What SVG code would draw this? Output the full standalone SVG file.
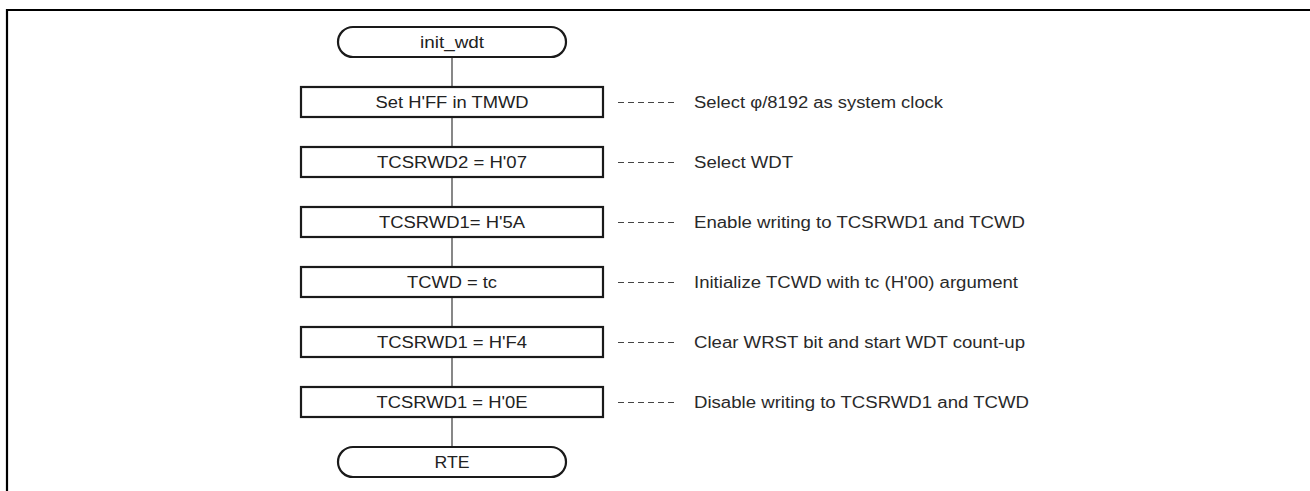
<svg xmlns="http://www.w3.org/2000/svg" width="1310" height="491" viewBox="0 0 1310 491">
<style>
  .frame { fill: none; stroke: #000; stroke-width: 2.2; }
  .box { fill: #fff; stroke: #1a1a1a; stroke-width: 2.2; }
  .conn { fill: none; stroke: #555; stroke-width: 1.4; }
  .dash { fill: none; stroke: #444; stroke-width: 1.2; stroke-dasharray: 6 4; }
  .lbl { font-family: "Liberation Sans", Arial, sans-serif; font-size: 16px; fill: #222; text-anchor: middle; }
  .note { font-family: "Liberation Sans", Arial, sans-serif; font-size: 16px; fill: #2a2a2a; }
</style>
<rect x="0" y="0" width="1310" height="491" fill="#fff"/>
<path class="frame" d="M7 491 V10 H1310"/>
<g id="connectors">
  <line class="conn" x1="452" y1="57" x2="452" y2="87"/>
  <line class="conn" x1="452" y1="117" x2="452" y2="147"/>
  <line class="conn" x1="452" y1="177" x2="452" y2="207"/>
  <line class="conn" x1="452" y1="237" x2="452" y2="267"/>
  <line class="conn" x1="452" y1="297" x2="452" y2="327"/>
  <line class="conn" x1="452" y1="357" x2="452" y2="387"/>
  <line class="conn" x1="452" y1="417" x2="452" y2="447"/>
  <line class="dash" x1="618" y1="102.5" x2="674" y2="102.5"/>
  <line class="dash" x1="618" y1="162.5" x2="674" y2="162.5"/>
  <line class="dash" x1="618" y1="222.5" x2="674" y2="222.5"/>
  <line class="dash" x1="618" y1="282.5" x2="674" y2="282.5"/>
  <line class="dash" x1="618" y1="342.5" x2="674" y2="342.5"/>
  <line class="dash" x1="618" y1="402.5" x2="674" y2="402.5"/>
</g>
<g id="start">
  <rect class="box" x="338" y="27" width="228" height="30" rx="15" ry="15"/>
  <text class="lbl" x="452" y="47.8" textLength="64" lengthAdjust="spacingAndGlyphs">init_wdt</text>
</g>
<g id="step1">
  <rect class="box" x="301" y="87" width="302" height="30"/>
  <text class="lbl" x="452" y="107.8" textLength="153" lengthAdjust="spacingAndGlyphs">Set H'FF in TMWD</text>
  <text class="note" x="694" y="108.3" textLength="249" lengthAdjust="spacingAndGlyphs">Select φ/8192 as system clock</text>
</g>
<g id="step2">
  <rect class="box" x="301" y="147" width="302" height="30"/>
  <text class="lbl" x="452" y="167.8" textLength="150" lengthAdjust="spacingAndGlyphs">TCSRWD2 = H'07</text>
  <text class="note" x="694" y="168.3" textLength="99" lengthAdjust="spacingAndGlyphs">Select WDT</text>
</g>
<g id="step3">
  <rect class="box" x="301" y="207" width="302" height="30"/>
  <text class="lbl" x="452" y="227.8" textLength="146" lengthAdjust="spacingAndGlyphs">TCSRWD1= H'5A</text>
  <text class="note" x="694" y="228.3" textLength="331" lengthAdjust="spacingAndGlyphs">Enable writing to TCSRWD1 and TCWD</text>
</g>
<g id="step4">
  <rect class="box" x="301" y="267" width="302" height="30"/>
  <text class="lbl" x="452" y="287.8" textLength="90" lengthAdjust="spacingAndGlyphs">TCWD = tc</text>
  <text class="note" x="694" y="288.3" textLength="324" lengthAdjust="spacingAndGlyphs">Initialize TCWD with tc (H'00) argument</text>
</g>
<g id="step5">
  <rect class="box" x="301" y="327" width="302" height="30"/>
  <text class="lbl" x="452" y="347.8" textLength="150" lengthAdjust="spacingAndGlyphs">TCSRWD1 = H'F4</text>
  <text class="note" x="694" y="348.3" textLength="331" lengthAdjust="spacingAndGlyphs">Clear WRST bit and start WDT count-up</text>
</g>
<g id="step6">
  <rect class="box" x="301" y="387" width="302" height="30"/>
  <text class="lbl" x="452" y="407.8" textLength="151" lengthAdjust="spacingAndGlyphs">TCSRWD1 = H'0E</text>
  <text class="note" x="694" y="408.3" textLength="335" lengthAdjust="spacingAndGlyphs">Disable writing to TCSRWD1 and TCWD</text>
</g>
<g id="end">
  <rect class="box" x="338" y="447" width="228" height="30" rx="15" ry="15"/>
  <text class="lbl" x="452" y="467.8" textLength="35" lengthAdjust="spacingAndGlyphs">RTE</text>
</g>
</svg>
